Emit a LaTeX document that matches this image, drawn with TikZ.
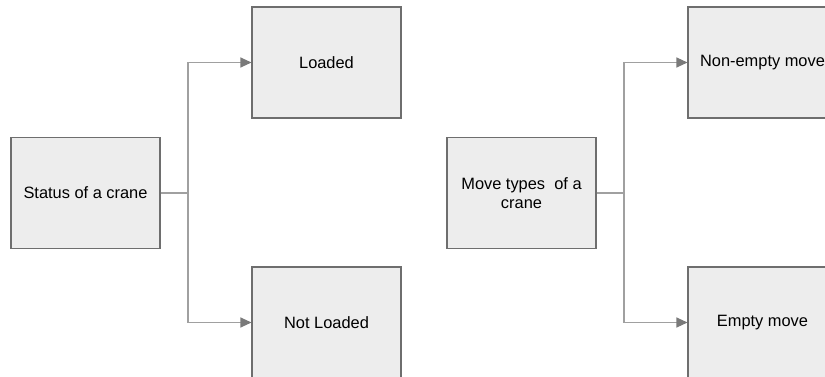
\documentclass[tikz,border=0pt]{standalone}
\usepackage{fontspec}
\setmainfont{Liberation Sans}
\usetikzlibrary{arrows.meta}
\definecolor{boxfill}{HTML}{EDEDED}
\definecolor{boxline}{HTML}{6E6E6E}
\definecolor{wire}{HTML}{A0A0A0}
\definecolor{tipfill}{HTML}{7A7A7A}
\tikzset{
  block/.style={draw=boxline, fill=boxfill, line width=1.1pt,
    minimum width=149pt, minimum height=111pt, inner sep=0pt,
    align=center, font=\fontsize{16.4}{19}\selectfont},
  wireline/.style={draw=wire, line width=1.1pt},
  feed/.style={wireline, -{Triangle[length=11pt, width=10pt, fill=tipfill, color=tipfill]}},
}
\begin{document}
\begin{tikzpicture}[x=1pt, y=-1pt]
  \useasboundingbox (0,0) rectangle (825,377);
  \clip (0,0) rectangle (825,377);

  % left tree: crane status
  \node[block] (status) at (85.5,193) {Status of a crane};
  \node[block] (loaded) at (326.5,62.5) {Loaded};
  \node[block] (notloaded) at (326.5,322.5) {Not Loaded};
  \coordinate (j1) at (188,193);
  \draw[wireline] (status.east) -- (j1);
  \draw[feed] (j1) |- (loaded.west);
  \draw[feed] (j1) |- (notloaded.west);

  % right tree: move types
  \node[block] (movetypes) at (521.5,193) {Move types\ \ of a\\crane};
  \node[block] (nonempty) at (762.5,62.5) {Non-empty move};
  \node[block] (empty) at (762.5,322.5) {Empty move};
  \coordinate (j2) at (624,193);
  \draw[wireline] (movetypes.east) -- (j2);
  \draw[feed] (j2) |- (nonempty.west);
  \draw[feed] (j2) |- (empty.west);
\end{tikzpicture}
\end{document}
